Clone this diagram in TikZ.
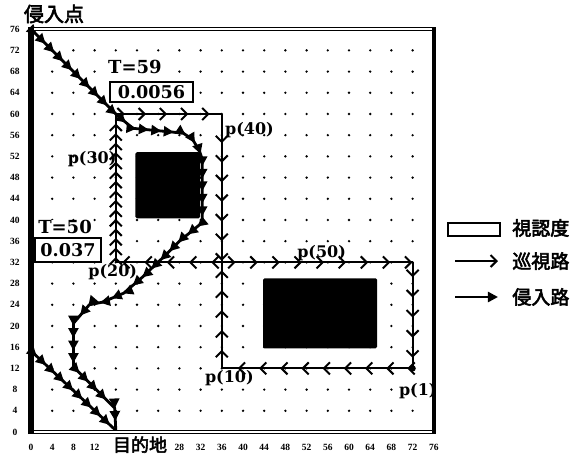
\documentclass[tikz,border=0pt]{standalone}
\usepackage{fontspec}
\setmainfont{DejaVu Serif}
\newfontfamily\tickfont{Liberation Serif}
\newfontfamily\cjk{Noto Sans CJK JP}[FakeBold=3]
\usetikzlibrary{arrows.meta,decorations.markings}
\tikzset{
  pb/.tip={Straight Barb[length=6bp,width=12bp,line width=2bp]},
  ib/.tip={Triangle[length=10bp,width=10bp]},
  patseg/.style n args={3}{draw, line width=1.8bp,
    postaction={decorate, decoration={markings,
      mark=between positions #1*5.3bp and #2*5.3bp step #3*5.3bp with {\arrow{pb}}}}},
  inv/.style={draw, line width=2.8bp, line join=round,
    postaction={decorate, decoration={markings,
      mark=between positions 8bp and 1 step 12.5bp with {\arrow{ib}}}}},
  lab/.style={inner sep=0pt, font=\fontsize{16bp}{16bp}\selectfont\bfseries},
  tlab/.style={inner sep=0.5bp, fill=white, font=\fontsize{18bp}{18bp}\selectfont\bfseries},
  valbox/.style={draw, line width=1.6bp, fill=white, inner sep=0pt,
    font=\fontsize{17.6bp}{18bp}\selectfont\bfseries},
  tick/.style={inner sep=0pt, font=\fontsize{9.5bp}{9.5bp}\selectfont\tickfont\bfseries},
  cjkl/.style={inner sep=0pt, font=\fontsize{19bp}{19bp}\selectfont\cjk},
  obst/.style={fill=black, rounded corners=1.5bp},
}
\begin{document}
\begin{tikzpicture}[x=5.3bp,y=5.3bp]
\useasboundingbox (-5.849,-4.151) rectangle (102.83,81.51);
% grid dots
\foreach \i in {4,8,...,72} \foreach \j in {4,8,...,72} \fill (\i,\j) circle[radius=1.3bp];
% obstacles
\fill[obst] (19.7,40.3) rectangle (31.9,52.8);
\fill[obst] (43.8,15.8) rectangle (65.3,29);
% labels
\node[lab, anchor=base west] (l30) at (6.9,50.75) {p(30)};
\node[lab, anchor=base west] (l40) at (36.6,56.04) {p(40)};
\node[lab, anchor=base west] (l50) at (50.2,33.0) {p(50)};
\node[lab, anchor=base west] (l20) at (10.8,29.4) {p(20)};
\node[lab, anchor=base west] (l10) at (32.8,9.43) {p(10)};
\node[lab, anchor=base west] (l1) at (69.4,6.8) {p(1)};
\node[tlab] (t59) at (19.62,68.87) {T=59};
\node[tlab] (t50) at (6.42,38.68) {T=50};
\node[valbox, minimum width=83bp, minimum height=20bp] (v59) at (22.74,64.15) {0.0056};
\node[valbox, minimum width=66bp, minimum height=24bp] (v50) at (6.98,34.34) {0.037};
% patrol route
\coordinate (P1) at (72,12);
\coordinate (P10) at (36,12);
\coordinate (J) at (36,32);
\coordinate (P20) at (16,32);
\coordinate (C) at (16,60);
\coordinate (P40) at (36,60);
\coordinate (R) at (72,32);
\draw[patseg={1}{33.5}{4}] (P1) -- (P10);
\draw[patseg={3.5}{19}{3.75}] (P10) -- (J);
\draw[patseg={2}{19.5}{4.2}] (J) -- (P20);
\draw[patseg={1}{28}{1.8}] (P20) -- (C);
\draw[patseg={1.7}{19.8}{4}] (C) -- (P40);
\draw[patseg={5.5}{27.8}{3.7}] (P40) -- (J);
\draw[patseg={2.6}{36}{4.17}] (J) -- (R);
\draw[patseg={2.8}{18.2}{3.8}] (R) -- (P1);
\fill (P1) circle[radius=3.2bp];
% intrusion routes
\coordinate (E) at (0,76);
\coordinate (E2) at (0,15.3);
\coordinate (D) at (16,0.3);
\draw[inv] (E) -- (16,60) -- (19.2,57.3) -- (28.7,56.4) -- (30.5,55.2) -- (31.8,53) -- (32.3,51.5)
  -- (32.3,39.5) -- (28,36) -- (25,33) -- (21,29.2) -- (17.5,26.2) -- (13.5,24.5) -- (11,24)
  -- (8,20.5) -- (8,12.3) -- (15.8,4.5) -- (D);
\draw[inv] (E2) -- (D);
% frame
\draw[double, line width=1.4bp, double distance=1.4bp] (0,76) -- (76,76);
\draw[double, line width=1.4bp, double distance=1.4bp] (0,0) -- (76,0);
\draw[line width=5bp] (0,-0.4) -- (0,76.4);
\draw[line width=4bp] (76,-0.4) -- (76,76.4);
% ticks
\foreach \v in {0,4,...,76} \node[tick] at (-3.02,\v) {\v};
\foreach \v in {0,4,8,12} \node[tick] at (\v,-2.83) {\v};
\foreach \v in {28,32,...,76} \node[tick] at (\v,-2.83) {\v};
% titles
\node[cjkl, font=\fontsize{20bp}{20bp}\selectfont\cjk] (entry) at (4.34,78.87) {侵入点};
\node[cjkl, font=\fontsize{18bp}{18bp}\selectfont\cjk] (goal) at (20.57,-2.4) {目的地};
% legend
\node[draw, line width=1.6bp, minimum width=52bp, minimum height=13bp, inner sep=0pt] (lgbox) at (83.58,38.21) {};
\node[cjkl] (lg1) at (96.2,38.49) {視認度};
\coordinate (a1) at (80,32.26);
\coordinate (a1e) at (88.11,32.26);
\draw[line width=1.8bp, -{pb}] (a1) -- (a1e);
\node[cjkl] (lg2) at (96.2,32.26) {巡視路};
\coordinate (a2) at (80,25.47);
\coordinate (a2e) at (88.11,25.47);
\draw[line width=2.4bp, -{ib}] (a2) -- (a2e);
\node[cjkl] (lg3) at (96.2,25.47) {侵入路};
\end{tikzpicture}
\end{document}
